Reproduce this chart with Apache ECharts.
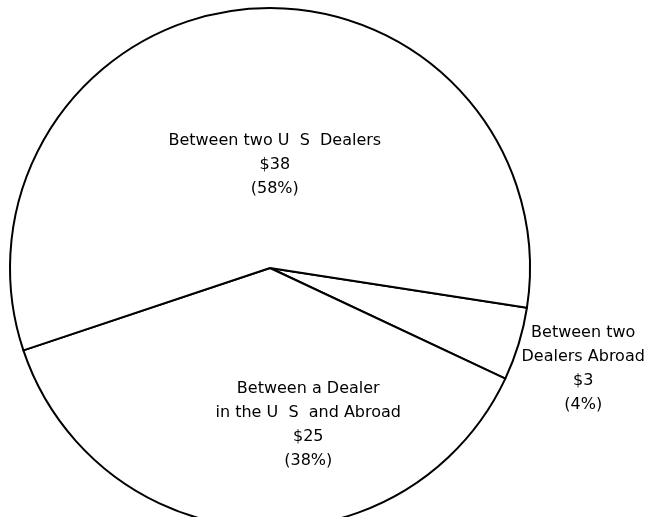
<!DOCTYPE html>
<html>
<head>
<meta charset="utf-8">
<style>
  html, body { margin: 0; padding: 0; background: #ffffff; }
  #chart { width: 650px; height: 517px; }
</style>
<script src="https://cdn.jsdelivr.net/npm/echarts@6/dist/echarts.min.js"></script>
</head>
<body>
<div id="chart"></div>
<script>
// Data (billions of dollars)
const categories = [
  'Between two\nDealers Abroad',
  'Between a Dealer\nin the U  S  and Abroad',
  'Between two U  S  Dealers'
];
const values = [3, 25, 38];
const dollarLabels = ['$3', '$25', '$38'];
const percentLabels = ['(4%)', '(38%)', '(58%)'];

// label nudges (style only)
const labelShift = [[186, 62], [46, 24], [16, 29]];

const chart = echarts.init(document.getElementById('chart'), null, { renderer: 'canvas' });

const data = categories.map((name, i) => ({ name: name, value: values[i] }));

chart.setOption({
  backgroundColor: '#ffffff',
  animation: false,
  series: [{
    type: 'pie',
    center: [270, 268],
    radius: 260,
    startAngle: -8.8,
    clockwise: true,
    avoidLabelOverlap: false,
    data: data,
    itemStyle: {
      color: '#ffffff',
      borderColor: '#000000',
      borderWidth: 2
    },
    emphasis: { disabled: true },
    label: {
      show: true,
      position: 'inside',
      color: '#000000',
      fontFamily: 'DejaVu Sans',
      fontSize: 16,
      lineHeight: 24,
      align: 'center',
      formatter: function (p) {
        return categories[p.dataIndex] + '\n' + dollarLabels[p.dataIndex] + '\n' + percentLabels[p.dataIndex];
      }
    },
    labelLine: { show: false },
    labelLayout: function (params) {
      const s = labelShift[params.dataIndex];
      return { dx: s[0], dy: s[1], align: 'center', verticalAlign: 'middle' };
    }
  }]
});
</script>
</body>
</html>
